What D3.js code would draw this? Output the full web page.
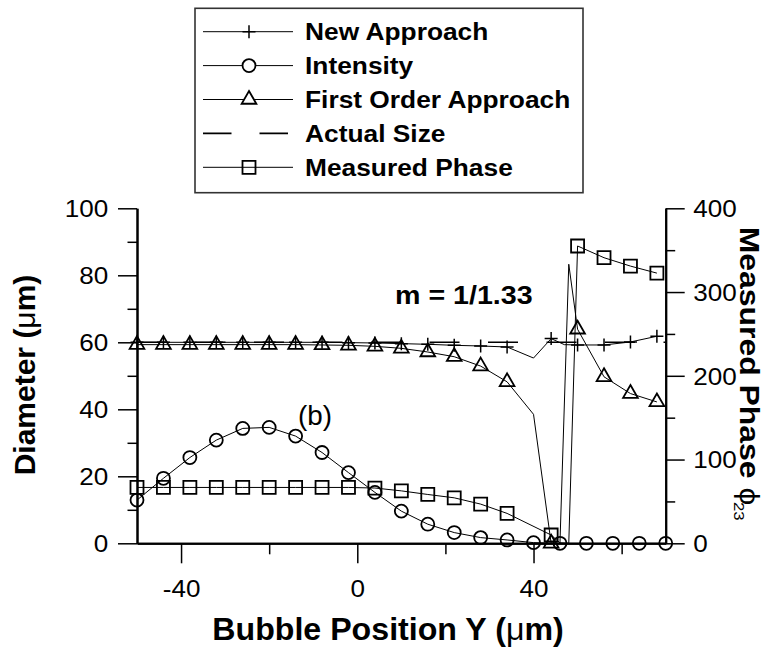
<!DOCTYPE html>
<html>
<head>
<meta charset="utf-8">
<script src="https://cdn.jsdelivr.net/npm/d3@7"></script>
<style>
  body { margin: 0; background: #fff; }
  svg { display: block; font-family: "Liberation Sans", Arial, sans-serif; }
</style>
</head>
<body>
<svg width="765" height="647"></svg>
<script>
// bubble position Y (um) and values
const newX = [-50, -44, -38, -32, -26, -20, -14, -8, -2, 4, 10, 16, 22, 28, 34, 40, 44, 47, 50, 56, 62, 68];
const newY = [60.0, 60.0, 60.0, 60.0, 60.0, 60.0, 60.0, 60.0, 59.9, 59.8, 59.6, 59.4, 59.1, 58.9, 58.6, 55.3, 61.1, 59.3, 59.2, 59.2, 60.1, 61.8];
const newNoMark = [40, 47];

const intX = [-50, -44, -38, -32, -26, -20, -14, -8, -2, 4, 10, 16, 22, 28, 34, 40, 46, 52, 58, 64, 70];
const intY = [12.9, 19.4, 25.6, 30.8, 34.3, 34.6, 32.0, 27.1, 21.1, 15.2, 9.6, 5.7, 3.2, 1.7, 1.0, 0.2, 0, 0, 0, 0, 0];

const foX = [-50, -44, -38, -32, -26, -20, -14, -8, -2, 4, 10, 16, 22, 28, 34, 40, 44, 46, 48, 50, 56, 62, 68];
const foY = [59.3, 59.3, 59.3, 59.3, 59.3, 59.3, 59.3, 59.2, 59.1, 58.8, 58.2, 57.1, 55.7, 52.9, 48.2, 38.5, 0, 0, 83.3, 63.9, 49.7, 44.7, 42.2];
const foNoMark = [40, 46, 48];

const actX = [-50, 70];
const actY = [60, 60];

const phX = [-50, -44, -38, -32, -26, -20, -14, -8, -2, 4, 10, 16, 22, 28, 34, 44, 46, 48, 50, 56, 62, 68];
const phY = [66.7, 66.7, 66.7, 66.7, 66.7, 66.7, 66.7, 66.7, 66.7, 66.0, 62.6, 58.3, 54.3, 46.8, 35.7, 9.9, 0.5, 0, 355, 341, 331, 322.6];
const phNoMark = [46, 48];

const xTicks = [-40, 0, 40], xMinor = [-20, 20, 60];
const yLTicks = [0, 20, 40, 60, 80, 100], yLMinor = [10, 30, 50, 70, 90];
const yRTicks = [0, 100, 200, 300, 400], yRMinor = [50, 150, 250, 350];

const plot = { left: 137, right: 665.7, top: 208.3, bottom: 543.3 };
const font = '"Liberation Sans", Arial, sans-serif';

const x = d3.scaleLinear().domain([-50, 70]).range([plot.left, plot.right]);
const yL = d3.scaleLinear().domain([0, 100]).range([plot.bottom, plot.top]);
const yR = d3.scaleLinear().domain([0, 400]).range([plot.bottom, plot.top]);

const svg = d3.select("svg");

const series = [
  { name: "New Approach", xs: newX, ys: newY, skip: newNoMark, mark: "plus", y: yL },
  { name: "Intensity", xs: intX, ys: intY, skip: [], mark: "circle", y: yL },
  { name: "First Order Approach", xs: foX, ys: foY, skip: foNoMark, mark: "triangle", y: yL },
  { name: "Actual Size", xs: actX, ys: actY, skip: actX, mark: null, dash: "30,28.5", y: yL },
  { name: "Measured Phase", xs: phX, ys: phY, skip: phNoMark, mark: "square", y: yR }
];

function markPath(type) {
  if (type == "plus") return "M-6.5,0H6.5M0,-6.5V6.5";
  if (type == "circle") return d3.symbol(d3.symbolCircle, Math.PI * 6.5 * 6.5)();
  if (type == "triangle") return d3.symbol(d3.symbolTriangle, 93.6)();
  if (type == "square") return d3.symbol(d3.symbolSquare, 13 * 13)();
  return null;
}

// axes
function styleAxis(g) {
  g.select(".domain").attr("stroke", "#000").attr("stroke-width", 2);
  g.selectAll(".tick line").attr("stroke", "#000").attr("stroke-width", 1.5);
  g.attr("font-size", 23.3).attr("font-family", font);
  g.selectAll("text").attr("fill", "#000");
}
const plain = (d) => String(d);

const gx = svg.append("g").attr("transform", `translate(0,${plot.bottom})`)
  .call(d3.axisBottom(x).tickValues(xTicks).tickSize(20).tickSizeOuter(0).tickFormat(plain));
gx.call(styleAxis);
gx.selectAll("text").attr("y", 53.7).attr("dy", 0).attr("transform", "scale(1.12,1)");
svg.append("g").attr("transform", `translate(0,${plot.bottom})`)
  .call(d3.axisBottom(x).tickValues(xMinor).tickSize(11).tickSizeOuter(0).tickFormat(""))
  .call(styleAxis);

const gl = svg.append("g").attr("transform", `translate(${plot.left},0)`)
  .call(d3.axisLeft(yL).tickValues(yLTicks).tickSize(19).tickSizeOuter(0).tickFormat(plain));
gl.call(styleAxis);
gl.selectAll("text").attr("x", -28.7 / 1.12).attr("dy", "0.36em").attr("transform", "scale(1.12,1)");
svg.append("g").attr("transform", `translate(${plot.left},0)`)
  .call(d3.axisLeft(yL).tickValues(yLMinor).tickSize(9.5).tickSizeOuter(0).tickFormat(""))
  .call(styleAxis);

const gr = svg.append("g").attr("transform", `translate(${plot.right},0)`)
  .call(d3.axisRight(yR).tickValues(yRTicks).tickSize(19).tickSizeOuter(0).tickFormat(plain));
gr.call(styleAxis);
gr.selectAll("text").attr("x", 27.6 / 1.12).attr("dy", "0.36em").attr("transform", "scale(1.12,1)");
svg.append("g").attr("transform", `translate(${plot.right},0)`)
  .call(d3.axisRight(yR).tickValues(yRMinor).tickSize(9.5).tickSizeOuter(0).tickFormat(""))
  .call(styleAxis);

// data lines then markers
const lines = svg.append("g");
const marks = svg.append("g");

series.forEach(function(s) {
  const pts = s.xs.map((d, i) => [d, s.ys[i]]);
  const line = d3.line().x((d) => x(d[0])).y((d) => s.y(d[1]));
  lines.append("path")
    .attr("d", line(pts))
    .attr("fill", "none")
    .attr("stroke", "#000")
    .attr("stroke-width", s.dash ? 1.6 : 1)
    .attr("stroke-dasharray", s.dash || null);

  if (!s.mark) return;
  marks.selectAll(null)
    .data(pts.filter((d) => s.skip.indexOf(d[0]) < 0))
    .join("path")
    .attr("transform", (d) => `translate(${x(d[0])},${s.y(d[1])})`)
    .attr("d", markPath(s.mark))
    .attr("fill", "none")
    .attr("stroke", "#000")
    .attr("stroke-width", s.mark == "plus" ? 1.5 : 1.8);
});

// texts
function txt(str, px, py, size, sx, weight, anchor) {
  return svg.append("text")
    .attr("transform", `translate(${px},${py}) scale(${sx},1)`)
    .attr("font-size", size)
    .attr("font-weight", weight || "normal")
    .attr("text-anchor", anchor || "start")
    .attr("fill", "#000")
    .text(str);
}

txt("m = 1/1.33", 395, 304, 26.5, 1.08, "bold");
txt("(b)", 298, 425, 27, 1.03);

const xt = txt("Bubble Position Y (", 388, 640, 30.5, 1.055, "bold", "middle");
xt.append("tspan").attr("font-weight", "normal").text("\u03bc");
xt.append("tspan").text("m)");

const ylab = svg.append("text")
  .attr("transform", "translate(35,375) rotate(-90)")
  .attr("font-size", 30)
  .attr("font-weight", "bold")
  .attr("text-anchor", "middle")
  .text("Diameter (");
ylab.append("tspan").attr("font-weight", "normal").text("\u03bc");
ylab.append("tspan").text("m)");

const rlab = svg.append("text")
  .attr("transform", "translate(740,226.7) rotate(90) scale(1.12,1)")
  .attr("font-size", 28.5)
  .attr("font-weight", "bold")
  .text("Measured Phase ");
rlab.append("tspan").attr("font-weight", "normal").text("\u03d5");
rlab.append("tspan").attr("font-weight", "normal").attr("font-size", 15).attr("dx", -3).attr("dy", 6).text("23");

// legend
const legend = svg.append("g");
legend.append("rect")
  .attr("x", 195).attr("y", 8.3).attr("width", 388).attr("height", 184.4)
  .attr("fill", "#fff").attr("stroke", "#333").attr("stroke-width", 1.6);

series.forEach(function(s, i) {
  const ly = 31.7 + 33.9 * i;
  legend.append("line")
    .attr("x1", 203).attr("x2", 293).attr("y1", ly).attr("y2", ly)
    .attr("stroke", "#000")
    .attr("stroke-width", s.dash ? 1.6 : 1)
    .attr("stroke-dasharray", s.dash ? "28.5,28" : null);
  if (s.mark) {
    legend.append("path")
      .attr("transform", `translate(249,${ly})`)
      .attr("d", markPath(s.mark))
      .attr("fill", s.mark == "square" ? "none" : "#fff").attr("stroke", "#000")
      .attr("stroke-width", s.mark == "plus" ? 1.5 : 1.8);
  }
  txt(s.name, 305, ly + 8.3, 23.3, 1.13, "bold");
});
</script>
</body>
</html>
